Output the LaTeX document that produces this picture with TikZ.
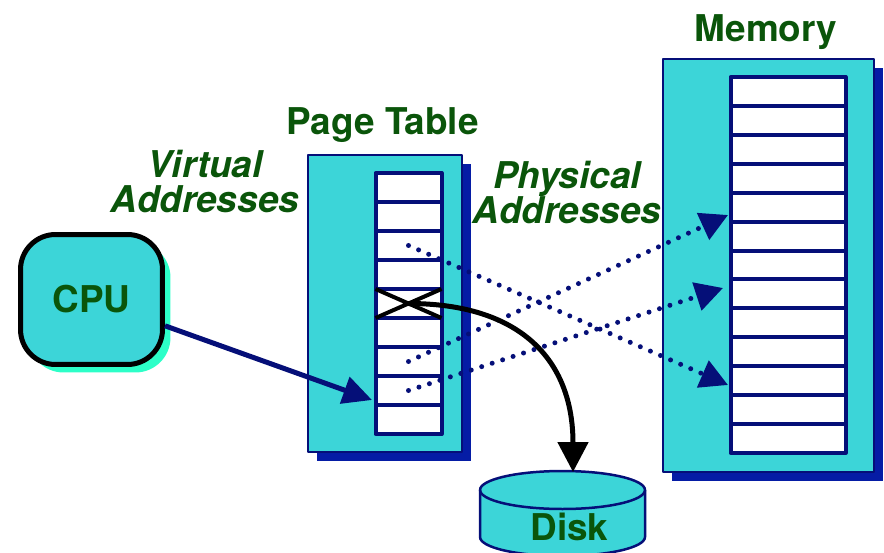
\documentclass[tikz,border=0pt]{standalone}
\usepackage{fontspec}
\setmainfont{TeX Gyre Heros}
\usetikzlibrary{arrows.meta,shadows}
\definecolor{boxfill}{RGB}{60,213,216}
\definecolor{navy}{RGB}{5,15,120}
\definecolor{shade}{RGB}{5,28,165}
\definecolor{glow}{RGB}{45,255,200}
\definecolor{txt}{RGB}{10,85,10}

\begin{document}
\begin{tikzpicture}[x=0.02cm,y=0.02cm,line join=round,
	lbl/.style={text=txt,font=\fontsize{21}{20.4}\selectfont\bfseries,inner sep=0pt},
	box/.style={draw=navy,fill=boxfill,line width=0.04cm,inner sep=0pt,
		drop shadow={shadow xshift=0.18cm,shadow yshift=-0.18cm,fill=shade,opacity=1}},
	cell/.style={draw=navy,fill=white,line width=0.08cm,inner sep=0pt,outer sep=0pt},
	dots/.style={navy,line width=0.1cm,line cap=round,dash pattern=on 0pt off 0.22cm,
		-{Triangle[length=0.55cm,width=0.57cm]}}]
	\useasboundingbox (0,0) rectangle (884,-553);
	
	% titles
	\node[lbl,anchor=base] (memlbl) at (766,-42) {Memory};
	\node[lbl,anchor=base] (ptlbl) at (382.5,-135) {Page Table};
	\node[lbl,font=\fontsize{21}{20.4}\selectfont\bfseries\itshape,align=center,anchor=base] (valbl) at (205,-213) {Virtual\\Addresses};
	\node[lbl,font=\fontsize{21}{20.4}\selectfont\bfseries\itshape,align=center,anchor=base] (palbl) at (567,-224) {Physical\\Addresses};
	
	% boxes
	\node[box,minimum width=3.08cm,minimum height=5.94cm] (ptbox) at (385,-303.5) {};
	\node[box,minimum width=4.22cm,minimum height=8.26cm,
		drop shadow={shadow xshift=0.17cm,shadow yshift=-0.18cm,fill=shade,opacity=1}] (membox) at (768.5,-265.5) {};
	\node[lbl,draw=black,fill=boxfill,line width=0.1cm,rounded corners=0.7cm,
		minimum width=2.84cm,minimum height=2.6cm,
		drop shadow={shadow xshift=0.16cm,shadow yshift=-0.16cm,fill=glow,opacity=1}] (cpu) at (91.5,-299.5) {CPU};
	
	% table rows
	\foreach \r in {1,...,9}
	\node[cell,minimum width=1.32cm,minimum height=0.58cm] (pt\r) at (408.5,{-158.5-29*\r}) {};
	\foreach \r in {1,...,13}
	\node[cell,minimum width=2.3cm,minimum height=0.5785cm] (m\r) at (788,{-62.54-28.92*\r}) {};
	
	% disk
	\filldraw[draw=navy,fill=boxfill,line width=0.05cm] (480,-490) -- (480,-537)
		arc[start angle=180,end angle=360,x radius=82.5,y radius=19] -- (645,-490)
		arc[start angle=0,end angle=180,x radius=82.5,y radius=19] -- cycle;
	\draw[navy,line width=0.05cm] (480,-490) arc[start angle=180,end angle=360,x radius=82.5,y radius=19];
	\node[lbl,anchor=base] (disk) at (569.5,-540) {Disk};
	
	\coordinate (pa1) at (728,-215);
	\coordinate (pa2) at (723,-288);
	\coordinate (pa3) at (728,-385);
	\coordinate (va) at (372,-400);
	\coordinate (disktop) at (573,-472);
	
	\draw[dots] (pt3.center) -- (pa3);
	\draw[dots] (pt7.center) -- (pa1);
	\draw[dots] (pt8.center) -- (pa2);
	
	\draw[line width=0.08cm] (pt5.north west) -- (pt5.south east) (pt5.south west) -- (pt5.north east);
	\draw[line width=0.1cm,-{Triangle[length=0.6cm,width=0.6cm]}] (pt5.center) .. controls +(112,0) and +(0,112) .. (disktop);
	\draw[navy,line width=0.1cm,-{Triangle[length=0.58cm,width=0.55cm]}] (cpu) -- (va);
\end{tikzpicture}
\end{document}
